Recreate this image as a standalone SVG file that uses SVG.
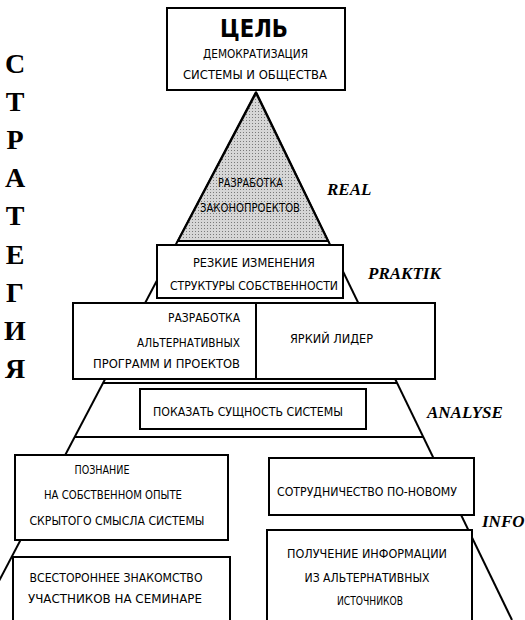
<svg xmlns="http://www.w3.org/2000/svg" width="525" height="620" viewBox="0 0 525 620">
<defs>
<pattern id="dots" width="3" height="3" patternUnits="userSpaceOnUse"><rect width="3" height="3" fill="#d6d6d6"/><rect width="1" height="1" fill="#7a7a7a"/></pattern>
<style>
.box{fill:#fff;stroke:#000;stroke-width:2}
.ln{stroke:#000;stroke-width:2;fill:none}
.h{font-family:"DejaVu Sans","Liberation Sans",sans-serif;font-size:13px;fill:#000;text-transform:uppercase}
.c{text-anchor:middle}
.e{text-anchor:end}
.lvl{font-family:"Liberation Serif",serif;font-weight:bold;font-style:italic;font-size:17px;fill:#000}
.side{font-family:"Liberation Serif",serif;font-weight:bold;font-size:28px;text-anchor:middle;fill:#000}
</style>
</defs>
<rect width="525" height="620" fill="#fff"/>

<g id="connectors">
<line class="ln" x1="256" y1="92" x2="-21.5" y2="620"/>
<line class="ln" x1="256" y1="92" x2="512" y2="620"/>
<polygon points="256,93 178,241 328,241" fill="url(#dots)" stroke="#000" stroke-width="2"/>
<line class="ln" x1="103" y1="383" x2="397" y2="383"/>
<line class="ln" x1="75" y1="437" x2="423" y2="437"/>
</g>

<g id="goal">
<rect class="box" x="167" y="8" width="178" height="82"/>
<text x="254" y="37" class="c" font-family="DejaVu Sans,sans-serif" font-weight="bold" font-size="24" textLength="68" lengthAdjust="spacingAndGlyphs">ЦЕЛЬ</text>
<text x="255.5" y="58" class="h c" textLength="105" lengthAdjust="spacingAndGlyphs">ДЕМОКРАТИЗАЦИЯ</text>
<text x="255" y="79" class="h c" textLength="144" lengthAdjust="spacingAndGlyphs">СИСТЕМЫ И ОБЩЕСТВА</text>
</g>

<g id="laws">
<text x="250.5" y="187" class="h c" textLength="65" lengthAdjust="spacingAndGlyphs">РАЗРАБОТКА</text>
<text x="250" y="212" class="h c" textLength="100" lengthAdjust="spacingAndGlyphs">ЗАКОНОПРОЕКТОВ</text>
</g>

<g id="property">
<rect class="box" x="157" y="245" width="186" height="53"/>
<text x="254" y="267" class="h c" textLength="122" lengthAdjust="spacingAndGlyphs">РЕЗКИЕ ИЗМЕНЕНИЯ</text>
<text x="254" y="290" class="h c" textLength="168" lengthAdjust="spacingAndGlyphs">СТРУКТУРЫ СОБСТВЕННОСТИ</text>
</g>

<g id="programs">
<rect class="box" x="73" y="303" width="183" height="76"/>
<text x="240" y="322" class="h e" textLength="72" lengthAdjust="spacingAndGlyphs">РАЗРАБОТКА</text>
<text x="240" y="347" class="h e" textLength="103" lengthAdjust="spacingAndGlyphs">АЛЬТЕРНАТИВНЫХ</text>
<text x="240" y="368" class="h e" textLength="147" lengthAdjust="spacingAndGlyphs">ПРОГРАММ И ПРОЕКТОВ</text>
</g>

<g id="leader">
<rect class="box" x="256" y="303" width="179" height="76"/>
<text x="290" y="343" class="h" textLength="83" lengthAdjust="spacingAndGlyphs">ЯРКИЙ ЛИДЕР</text>
</g>

<g id="essence">
<rect class="box" x="140" y="389" width="226" height="40"/>
<text x="248" y="416" class="h c" textLength="190" lengthAdjust="spacingAndGlyphs">ПОКАЗАТЬ СУЩНОСТЬ СИСТЕМЫ</text>
</g>

<g id="cognition">
<rect class="box" x="15" y="455" width="213" height="85"/>
<text x="102" y="474" class="h c" textLength="55" lengthAdjust="spacingAndGlyphs">ПОЗНАНИЕ</text>
<text x="113" y="499" class="h c" textLength="138" lengthAdjust="spacingAndGlyphs">НА СОБСТВЕННОМ ОПЫТЕ</text>
<text x="117" y="525" class="h c" textLength="175" lengthAdjust="spacingAndGlyphs">СКРЫТОГО СМЫСЛА СИСТЕМЫ</text>
</g>

<g id="cooperation">
<rect class="box" x="269" y="458" width="205" height="57"/>
<text x="367" y="496" class="h c" textLength="180" lengthAdjust="spacingAndGlyphs">СОТРУДНИЧЕСТВО ПО-НОВОМУ</text>
</g>

<g id="seminar">
<rect class="box" x="13" y="557" width="217" height="70"/>
<text x="116" y="582" class="h c" textLength="173" lengthAdjust="spacingAndGlyphs">ВСЕСТОРОННЕЕ ЗНАКОМСТВО</text>
<text x="115" y="603" class="h c" textLength="174" lengthAdjust="spacingAndGlyphs">УЧАСТНИКОВ НА СЕМИНАРЕ</text>
</g>

<g id="information">
<rect class="box" x="267" y="530" width="205" height="97"/>
<text x="367" y="558" class="h c" textLength="160" lengthAdjust="spacingAndGlyphs">ПОЛУЧЕНИЕ ИНФОРМАЦИИ</text>
<text x="367" y="582" class="h c" textLength="125" lengthAdjust="spacingAndGlyphs">ИЗ АЛЬТЕРНАТИВНЫХ</text>
<text x="370" y="605" class="h c" textLength="66" lengthAdjust="spacingAndGlyphs">ИСТОЧНИКОВ</text>
</g>

<g id="levels">
<text x="327" y="195" class="lvl">REAL</text>
<text x="368" y="279" class="lvl">PRAKTIK</text>
<text x="427" y="418" class="lvl">ANALYSE</text>
<text x="482" y="527" class="lvl">INFO</text>
</g>

<g id="strategy">
<text x="15" y="73" class="side">С</text>
<text x="15" y="111" class="side">Т</text>
<text x="15" y="149" class="side">Р</text>
<text x="15" y="187" class="side">А</text>
<text x="15" y="225" class="side">Т</text>
<text x="15" y="264" class="side">Е</text>
<text x="15" y="302" class="side">Г</text>
<text x="15" y="340" class="side">И</text>
<text x="15" y="378" class="side">Я</text>
</g>
</svg>
